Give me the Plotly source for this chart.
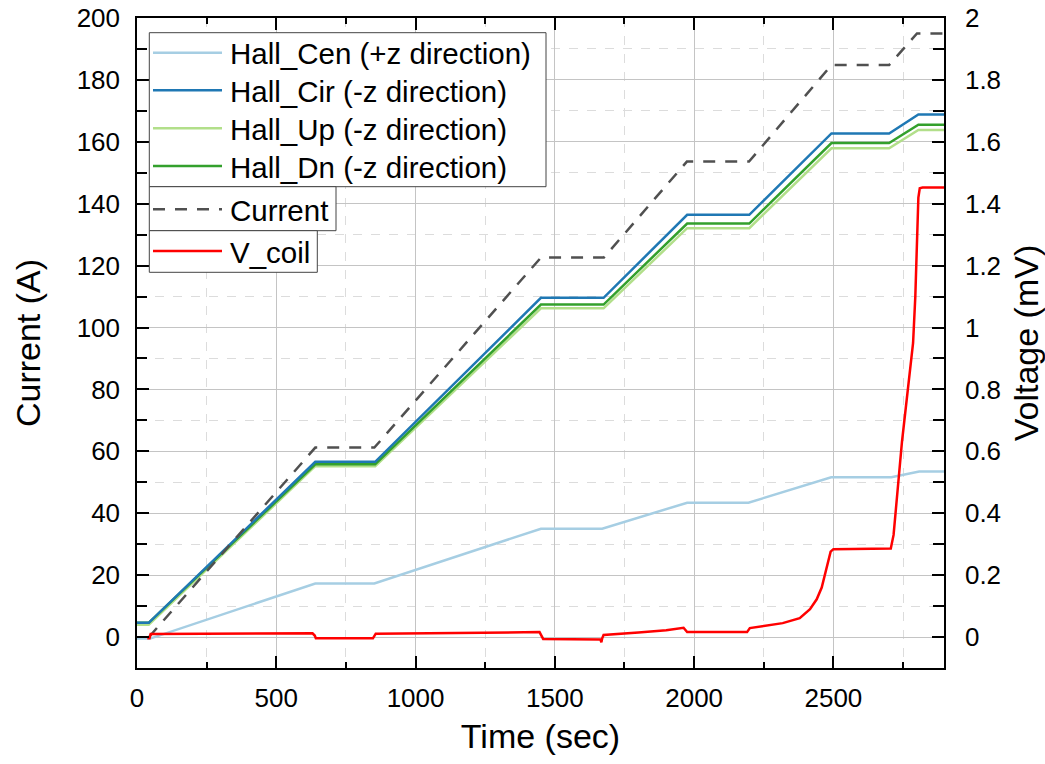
import plotly.graph_objects as go

# ---------------- data (breakpoints) ----------------
t_current = [43, 640, 852, 1450, 1676, 1974, 2197, 2493, 2700, 2800, 2900]
current = [0.0, 61.2, 61.2, 122.6, 122.6, 153.6, 153.6, 184.8, 184.8, 195.0, 195.0]

t_hall = [0, 42, 640, 855, 1450, 1675, 1975, 2198, 2493, 2700, 2805, 2900]
hall_cir = [4.6, 4.6, 56.6, 56.6, 109.6, 109.6, 136.4, 136.4, 162.7, 162.7, 168.8, 168.8]
hall_dn = [4.6, 4.6, 55.8, 55.8, 107.4, 107.4, 133.6, 133.6, 159.6, 159.6, 165.5, 165.5]
hall_up = [4.0, 4.0, 55.2, 55.2, 106.2, 106.2, 132.1, 132.1, 157.9, 157.9, 163.8, 163.8]

t_cen = [0, 47, 640, 852, 1450, 1670, 1975, 2195, 2492, 2708, 2808, 2900]
hall_cen = [-0.5, -0.5, 17.3, 17.3, 35.0, 35.0, 43.4, 43.4, 51.6, 51.6, 53.5, 53.5]

t_vcoil = [37, 45, 49, 630, 638, 642, 847, 852, 857, 1445, 1452, 1458, 1664, 1667, 1670, 1675,
           1800, 1900, 1962, 1968, 1975, 2190, 2195, 2200, 2318, 2379, 2416, 2440, 2458,
           2476, 2490, 2500, 2706, 2716, 2726, 2736, 2746, 2756, 2766, 2776, 2786, 2794,
           2800, 2805, 2810, 2820, 2900]
v_coil = [-0.004, -0.004, 0.010, 0.012, 0.005, -0.004, -0.004, 0.005, 0.011, 0.016, 0.006, -0.006,
          -0.008, -0.017, -0.004, 0.007, 0.015, 0.022, 0.030, 0.022, 0.016, 0.016, 0.024, 0.029,
          0.045, 0.061, 0.090, 0.122, 0.160, 0.220, 0.276, 0.284, 0.286, 0.330, 0.420,
          0.530, 0.630, 0.710, 0.770, 0.850, 0.950, 1.100, 1.280, 1.420, 1.450, 1.452, 1.452]

FONT = "Liberation Sans, Arial, sans-serif"

series = [
    dict(x=t_cen, y=hall_cen, name="Hall_Cen (+z direction)", color="#a6cee3", dash="solid", yaxis="y"),
    dict(x=t_hall, y=hall_cir, name="Hall_Cir (-z direction)", color="#1f78b4", dash="solid", yaxis="y"),
    dict(x=t_hall, y=hall_up, name="Hall_Up (-z direction)", color="#b2df8a", dash="solid", yaxis="y"),
    dict(x=t_hall, y=hall_dn, name="Hall_Dn (-z direction)", color="#33a02c", dash="solid", yaxis="y"),
    dict(x=t_current, y=current, name="Current", color="#505050", dash="12px,10px", yaxis="y"),
    dict(x=t_vcoil, y=v_coil, name="V_coil", color="#ff0000", dash="solid", yaxis="y2"),
]
draw_order = [0, 2, 3, 1, 4, 5]

fig = go.Figure()
for i in draw_order:
    s = series[i]
    fig.add_trace(go.Scatter(x=s["x"], y=s["y"], mode="lines", name=s["name"], yaxis=s["yaxis"],
                             line=dict(color=s["color"], width=2.5, dash=s["dash"]),
                             showlegend=False))

# ---------------- layout ----------------
L, R, T, B = 137, 101, 18, 96
W, H = 1045, 764
PW, PH = W - L - R, H - T - B


def px(xp):
    return (xp - L) / PW


def py(yp):
    return (H - B - yp) / PH


# legend drawn as boxes (three framed groups, like the reference)
shapes, annotations = [], []
boxes = [
    (149.3, 546.0, 32.7, 186.7, [0, 1, 2, 3], [52.7, 90.3, 128.3, 166.0]),
    (149.3, 336.0, 186.7, 230.7, [4], [209.3]),
    (149.3, 317.3, 230.7, 272.3, [5], [251.0]),
]
for x0, x1, y0, y1, idx, ys in boxes:
    shapes.append(dict(type="rect", xref="paper", yref="paper", x0=px(x0), x1=px(x1),
                       y0=py(y1), y1=py(y0), line=dict(color="#444444", width=1),
                       fillcolor="white", layer="above"))
for x0, x1, y0, y1, idx, ys in boxes:
    for i, yc in zip(idx, ys):
        s = series[i]
        shapes.append(dict(type="line", xref="paper", yref="paper", x0=px(153), x1=px(222),
                           y0=py(yc), y1=py(yc),
                           line=dict(color=s["color"], width=2.5, dash=s["dash"]), layer="above"))
        annotations.append(dict(text=s["name"], xref="paper", yref="paper", x=px(228), y=py(yc + 1),
                                xanchor="left", yanchor="middle", showarrow=False,
                                font=dict(family=FONT, size=29.5, color="black")))

axis_common = dict(
    showline=True, linecolor="black", linewidth=1.5,
    ticks="inside", tickcolor="black", tickwidth=1.5,
    tickfont=dict(family=FONT, size=26, color="black"),
    zeroline=False, automargin=False,
)
title_font = dict(family=FONT, size=34, color="black")

fig.update_layout(
    width=W, height=H,
    margin=dict(l=L, r=R, t=T, b=B, autoexpand=False),
    plot_bgcolor="white", paper_bgcolor="white",
    font=dict(family=FONT, color="black"),
    showlegend=False,
    shapes=shapes, annotations=annotations,
    xaxis=dict(
        **axis_common, range=[0, 2897], tick0=0, dtick=500, ticklen=12, mirror="ticks",
        showgrid=True, gridcolor="#c4c4c4", gridwidth=1,
        minor=dict(dtick=250, ticks="inside", ticklen=6, tickcolor="black", tickwidth=1.5,
                   showgrid=True, gridcolor="#dcdcdc", griddash="dash", gridwidth=1),
        title=dict(text="Time (sec)", font=title_font, standoff=12),
        ticklabelstandoff=6,
    ),
    yaxis=dict(
        **axis_common, range=[-10, 200], tick0=0, dtick=20, ticklen=12, mirror="ticks",
        showgrid=True, gridcolor="#c4c4c4", gridwidth=1,
        minor=dict(dtick=10, ticks="inside", ticklen=10, tickcolor="black", tickwidth=1.5,
                   showgrid=True, gridcolor="#dcdcdc", griddash="dash", gridwidth=1),
        title=dict(text="Current (A)", font=title_font, standoff=26),
        ticklabelstandoff=10,
    ),
    yaxis2=dict(
        **axis_common, overlaying="y", side="right", anchor="x",
        range=[-0.1, 2.0], tick0=0, dtick=0.2, ticklen=11, showgrid=False,
        minor=dict(dtick=0.1, ticks="inside", ticklen=11, tickcolor="black", tickwidth=1.5,
                   showgrid=False),
        title=dict(text="Voltage (mV)", font=title_font, standoff=20),
        ticklabelstandoff=14,
    ),
)

fig.write_html("out.html")
